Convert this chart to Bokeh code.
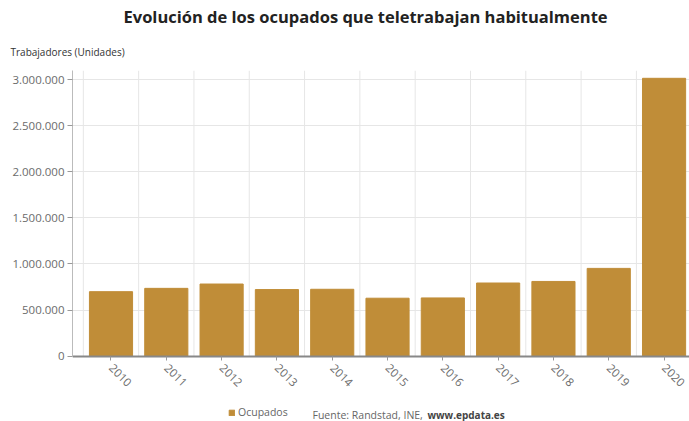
import math
from bokeh.plotting import figure
from bokeh.models import (Range1d, FixedTicker, Grid, Title, Label, Legend, LegendItem,
                          ColumnDataSource)
from bokeh.embed import file_html
from bokeh.resources import INLINE

years = ["2010", "2011", "2012", "2013", "2014", "2015", "2016", "2017", "2018", "2019", "2020"]
ocupados = [699000, 735000, 782000, 722000, 725000, 628000, 631000, 793000, 810000, 951800, 3015200]
y_ticks = [0, 500000, 1000000, 1500000, 2000000, 2500000, 3000000]
y_tick_labels = ["0", "500.000", "1.000.000", "1.500.000", "2.000.000", "2.500.000", "3.000.000"]

title_text = "Evolución de los ocupados que teletrabajan habitualmente"
y_label_text = "Trabajadores (Unidades)"
legend_text = "Ocupados"
source_text = "Fuente: Randstad, INE, "
source_link = "www.epdata.es"

FONT = "Open Sans"
BAR = "#C08D38"

# layout (pixels): frame top, zero line, canvas bottom
Y_TOP = 3100000
PX_TOP, PX_ZERO, PX_BOTTOM = 67, 355, 421
y_bottom = -Y_TOP * (PX_BOTTOM - PX_ZERO) / (PX_ZERO - PX_TOP)

idx = list(range(len(years)))
src = ColumnDataSource(dict(x=idx, top=ocupados))

p = figure(width=689, height=421, output_backend="svg", toolbar_location=None,
           x_range=Range1d(-0.696, 10.46), y_range=Range1d(y_bottom, Y_TOP),
           min_border_left=72, min_border_right=0, min_border_top=PX_TOP, min_border_bottom=0)
p.outline_line_color = None
p.background_fill_color = "white"

# vertical grid lines between categories, limited to the value area
bounds_x = [i + 0.5 for i in range(-1, len(years))]
p.segment(x0=bounds_x, x1=bounds_x, y0=[0] * len(bounds_x), y1=[Y_TOP] * len(bounds_x),
          line_color="#e6e6e6", line_width=1)

r = p.vbar(x="x", top="top", width=0.78, source=src, color=BAR)

# titles
p.add_layout(Title(text=y_label_text, align="left", offset=-62, text_font=FONT,
                   text_font_size="10px", text_font_style="normal", text_color="#333333",
                   standoff=24), "above")
p.add_layout(Title(text=title_text, align="left", offset=51, text_font=FONT,
                   text_font_size="16.5px", text_font_style="bold", text_color="#222222",
                   standoff=5), "above")

# axes
p.yaxis.ticker = FixedTicker(ticks=y_ticks)
p.yaxis.bounds = (0, Y_TOP)
p.yaxis.major_label_overrides = {t: l for t, l in zip(y_ticks, y_tick_labels)}
p.yaxis.major_label_text_font = FONT
p.yaxis.major_label_text_font_size = "11.5px"
p.yaxis.major_label_text_color = "#6b6b6b"
p.yaxis.major_label_standoff = 3
p.yaxis.axis_line_color = "#bbbbbb"
p.yaxis.major_tick_line_color = "#999999"
p.yaxis.major_tick_out = 5
p.yaxis.major_tick_in = 0
p.yaxis.minor_tick_line_color = None

p.xaxis.fixed_location = 0
p.xaxis.ticker = FixedTicker(ticks=idx)
p.xaxis.major_label_overrides = {i: y for i, y in zip(idx, years)}
p.xaxis.major_label_orientation = -math.pi / 4
p.xaxis.major_label_text_font = FONT
p.xaxis.major_label_text_font_size = "11.5px"
p.xaxis.major_label_text_color = "#6b6b6b"
p.xaxis.major_label_standoff = 6
p.xaxis.axis_line_color = "#888888"
p.xaxis.axis_line_width = 2
p.xaxis.major_tick_line_color = "#999999"
p.xaxis.major_tick_out = 4
p.xaxis.major_tick_in = 0
p.xaxis.minor_tick_line_color = None

# grids
p.ygrid.grid_line_color = "#e6e6e6"
p.xgrid.visible = False

# legend + source note under the axis labels
legend = Legend(items=[LegendItem(label=legend_text, renderers=[r])], location=(156, 2),
                orientation="horizontal", background_fill_alpha=0, border_line_color=None,
                label_text_font=FONT, label_text_font_size="10.5px", label_text_color="#666666",
                glyph_width=7, glyph_height=7, padding=0, margin=0, label_standoff=3,
                label_height=12)
p.add_layout(legend, "center")

p.add_layout(Label(x=240, y=7, x_units="screen", y_units="screen", text=source_text,
                   text_font=FONT, text_font_size="10.5px", text_color="#666666",
                   text_baseline="middle"))
p.add_layout(Label(x=355, y=7, x_units="screen", y_units="screen", text=source_link,
                   text_font=FONT, text_font_size="10px", text_font_style="bold",
                   text_color="#444444", text_baseline="middle"))

open("out.html", "w").write(file_html(p, INLINE))
